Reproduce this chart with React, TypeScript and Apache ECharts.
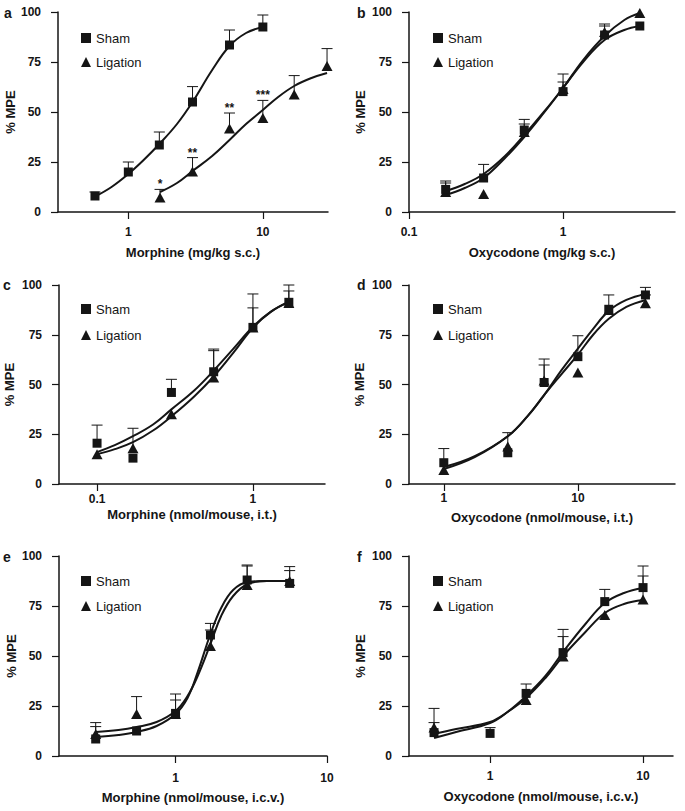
import React, { useEffect, useRef } from 'react';
import * as echarts from 'echarts';

// ---------- data ----------
const panelLetters = ['a', 'b', 'c', 'd', 'e', 'f'];
const xAxisTitles = [
  'Morphine (mg/kg s.c.)',
  'Oxycodone (mg/kg s.c.)',
  'Morphine (nmol/mouse, i.t.)',
  'Oxycodone (nmol/mouse, i.t.)',
  'Morphine (nmol/mouse, i.c.v.)',
  'Oxycodone (nmol/mouse, i.c.v.)',
];
const xMins = [0.3, 0.1, 0.057, 0.55, 0.17, 0.295];
const xMaxs = [30.5, 5.33, 2.9, 53, 10, 15.7];
const xTickValues = [[1, 10], [0.1, 1], [0.1, 1], [1, 10], [1, 10], [1, 10]];
const yTickValues = [0, 25, 50, 75, 100];
const legendNames = ['Sham', 'Ligation'];

// points: [dose, %MPE, top of error bar]
const shamA = [[0.565, 8, 10], [1, 20, 25], [1.7, 33.5, 40], [3.0, 55, 62.7], [5.65, 83.5, 91], [10, 92.5, 98.5]];
const ligA = [[1.72, 7.3, 11.3], [3.0, 20.2, 27.2], [5.65, 41.8, 49.5], [10, 47, 55.8], [17.1, 58.8, 68.2], [30, 73, 81.7]];
const starsA = ['*', '**', '**', '***', '', ''];

const shamB = [[0.173, 11.3, 15.5], [0.305, 17, 23.8], [0.56, 41, 46.3], [1, 60.2, 69], [1.86, 88.5, 94], [3.15, 93, 93]];
const ligB = [[0.173, 10, 14.5], [0.305, 9, 9], [0.56, 40, 44], [1, 61.5, 65], [1.86, 90, 93], [3.15, 99.5, 99.5]];

const shamC = [[0.1, 20.5, 29.6], [0.17, 13, 13], [0.3, 46, 52.6], [0.56, 56.4, 67.8], [1, 78.7, 95.5], [1.7, 91.3, 100]];
const ligC = [[0.1, 15, 15], [0.17, 18, 28], [0.3, 35, 35], [0.56, 53.5, 67], [1, 78.7, 88.5], [1.7, 91, 97]];

const shamD = [[1, 10.7, 17.8], [3.0, 15.7, 15.7], [5.6, 51, 62.8], [10, 64, 74.5], [17, 87.8, 95], [31.9, 95, 98.8]];
const ligD = [[1, 7, 7], [3.0, 18.8, 25.8], [5.6, 52, 59.8], [10, 56, 56], [17, 87.4, 87.4], [31.9, 90.8, 95]];

const shamE = [[0.297, 8.5, 16.7], [0.553, 12.5, 12.5], [1, 21.3, 31], [1.7, 60.5, 66.3], [2.97, 88, 95.5], [5.67, 86.3, 94.7]];
const ligE = [[0.297, 11, 14.7], [0.553, 21, 29.7], [1, 21, 28], [1.7, 55, 63], [2.97, 85.5, 95], [5.67, 87.5, 92.7]];

const shamF = [[0.43, 11.7, 16.7], [1, 11.3, 14.2], [1.72, 31.3, 36], [3.0, 51.7, 63.3], [5.62, 77.2, 83.3], [10, 84.2, 95]];
const ligF = [[0.43, 14.3, 23.8], [1.72, 28, 28], [3.0, 49.7, 59.7], [5.62, 70.5, 70.5], [10, 78.3, 90]];

// fitted curves: [dose, %MPE]
const shamFitA = [[0.565, 7.7], [0.75, 12.5], [1, 19], [1.3, 26], [1.7, 34], [2.3, 44], [3.0, 55], [4.2, 71], [5.65, 83], [7.5, 89.5], [10, 92.5]];
const ligFitA = [[1.72, 10], [2.3, 14.5], [3.0, 20.5], [4.2, 28], [5.65, 36], [7.5, 44], [10, 51], [13, 57.5], [17.1, 63], [23, 67], [30, 69.5]];
const shamFitB = [[0.173, 10.5], [0.23, 14], [0.305, 19], [0.42, 28], [0.56, 38.5], [0.75, 50], [1, 62], [1.35, 75], [1.86, 86], [2.5, 91], [3.15, 93]];
const ligFitB = [[0.173, 8.5], [0.23, 12], [0.305, 17], [0.42, 27], [0.56, 37.5], [0.75, 49.5], [1, 62], [1.35, 76], [1.86, 88], [2.5, 96], [3.15, 99.5]];
const shamFitC = [[0.1, 16], [0.13, 19.5], [0.17, 24], [0.23, 30], [0.3, 37.5], [0.42, 47], [0.56, 57], [0.75, 68], [1, 79], [1.3, 86.5], [1.7, 91.5]];
const ligFitC = [[0.1, 15], [0.13, 17.5], [0.17, 21], [0.23, 27], [0.3, 34], [0.42, 44], [0.56, 54], [0.75, 66], [1, 78.5], [1.3, 86.5], [1.7, 91.5]];
const shamFitD = [[1, 8.5], [1.7, 14], [3, 24], [4.2, 34], [5.65, 45], [7.5, 57], [10, 68], [13, 78], [17, 87], [23, 92.5], [32, 95.5]];
const ligFitD = [[1, 7.5], [1.7, 13.5], [3, 24], [4.2, 34], [5.65, 45], [7.5, 55], [10, 65], [13, 75], [17, 83], [23, 89], [32, 92.5]];
const shamFitE = [[0.297, 9.5], [0.42, 10.5], [0.553, 12], [0.75, 15], [1, 21], [1.2, 29], [1.4, 42], [1.7, 61], [2.0, 74], [2.4, 83], [3, 87], [4, 87.5], [5.67, 87.5]];
const ligFitE = [[0.297, 12], [0.42, 13], [0.553, 14.5], [0.75, 17], [1, 22.5], [1.2, 30], [1.4, 40], [1.7, 56], [2.0, 70], [2.4, 80], [3, 86], [4, 87.5], [5.67, 87.5]];
const shamFitF = [[0.43, 9], [0.6, 12], [1, 16.5], [1.3, 22], [1.72, 30], [2.3, 40], [3, 52], [4.2, 66], [5.62, 76.5], [7.5, 81.5], [10, 84]];
const ligFitF = [[0.43, 11], [0.6, 13.5], [1, 17], [1.3, 22], [1.72, 29], [2.3, 39], [3, 50], [4.2, 62], [5.62, 71.5], [7.5, 76], [10, 78]];

const shamPoints = [shamA, shamB, shamC, shamD, shamE, shamF];
const ligPoints = [ligA, ligB, ligC, ligD, ligE, ligF];
const shamFits = [shamFitA, shamFitB, shamFitC, shamFitD, shamFitE, shamFitF];
const ligFits = [ligFitA, ligFitB, ligFitC, ligFitD, ligFitE, ligFitF];
const starLabels = [starsA, [], [], [], [], []];

// ---------- layout ----------
const FONT = "'Liberation Sans', Arial, sans-serif";
const INK = '#151515';
const grids = [
  { left: 58, top: 12, width: 270, height: 200 },
  { left: 409, top: 12, width: 266, height: 200 },
  { left: 59, top: 285, width: 266, height: 199 },
  { left: 409, top: 285, width: 266, height: 199 },
  { left: 59, top: 556, width: 268, height: 200 },
  { left: 409, top: 556, width: 264, height: 200 },
];
const xLabelMargins = [14, 14, 9, 8, 16, 14];
const xNameGaps = [34, 34, 24, 27, 35, 34];
const yNameGaps = [41, 42, 43, 43, 40, 42];
const legendPos = [
  { left: 76, top: 26, gap: 10 },
  { left: 428, top: 26, gap: 10 },
  { left: 76, top: 297, gap: 12 },
  { left: 428, top: 297, gap: 12 },
  { left: 76, top: 569, gap: 11 },
  { left: 428, top: 569, gap: 11 },
];
const letterPos = [[4, 13], [357, 13], [3, 285], [357, 285], [3, 557], [357, 557]];

function errorSeries(pts: number[][], i: number) {
  return {
    type: 'custom',
    name: 'err',
    xAxisIndex: i,
    yAxisIndex: i,
    z: 3,
    silent: true,
    data: pts.filter((p) => p[2] > p[1]),
    encode: { x: 0, y: [1, 2] },
    renderItem: (_params: any, api: any) => {
      const x = api.value(0);
      const p0 = api.coord([x, api.value(1)]);
      const p1 = api.coord([x, api.value(2)]);
      const st = { stroke: INK, lineWidth: 1 };
      return {
        type: 'group',
        children: [
          { type: 'line', shape: { x1: p0[0], y1: p0[1], x2: p1[0], y2: p1[1] }, style: st },
          { type: 'line', shape: { x1: p1[0] - 5.5, y1: p1[1], x2: p1[0] + 5.5, y2: p1[1] }, style: st },
        ],
      };
    },
  };
}

function starSeries(pts: number[][], labels: string[], i: number) {
  const data = pts.map((p, k) => [p[0], p[2], k]).filter((d) => labels[d[2]]);
  return {
    type: 'custom',
    name: 'stars',
    xAxisIndex: i,
    yAxisIndex: i,
    z: 5,
    silent: true,
    data,
    encode: { x: 0, y: 1 },
    renderItem: (_params: any, api: any) => {
      const c = api.coord([api.value(0), api.value(1)]);
      return {
        type: 'text',
        x: c[0],
        y: c[1] + 1,
        style: {
          text: labels[api.value(2)],
          align: 'center',
          verticalAlign: 'bottom',
          font: `bold 12px ${FONT}`,
          fill: INK,
        },
      };
    },
  };
}

function buildOption() {
  const xAxis: any[] = [];
  const yAxis: any[] = [];
  const series: any[] = [];
  const legend: any[] = [];
  const graphic: any[] = [];
  const axisLine = { show: true, onZero: false, lineStyle: { color: INK, width: 1.5 } };
  const axisTick = { show: true, length: 7, lineStyle: { color: INK, width: 1.2 } };
  const labelStyle = { color: INK, fontSize: 12, fontWeight: 'bold', fontFamily: FONT };
  const nameStyle = { color: INK, fontSize: 13, fontWeight: 'bold', fontFamily: FONT };

  grids.forEach((_g, i) => {
    xAxis.push({
      type: 'log',
      logBase: 10,
      gridIndex: i,
      min: xMins[i],
      max: xMaxs[i],
      axisLine,
      axisTick: { ...axisTick, customValues: xTickValues[i] },
      minorTick: { show: false },
      splitLine: { show: false },
      axisLabel: {
        ...labelStyle,
        customValues: xTickValues[i],
        formatter: (v: number) => String(v),
        margin: xLabelMargins[i],
      },
      name: xAxisTitles[i],
      nameLocation: 'middle',
      nameGap: xNameGaps[i],
      nameTextStyle: nameStyle,
    });
    yAxis.push({
      type: 'value',
      gridIndex: i,
      min: 0,
      max: 100,
      interval: 25,
      axisLine,
      axisTick: { ...axisTick, customValues: yTickValues },
      splitLine: { show: false },
      axisLabel: { ...labelStyle, customValues: yTickValues, margin: 17 },
      name: '% MPE',
      nameLocation: 'middle',
      nameGap: yNameGaps[i],
      nameTextStyle: nameStyle,
    });

    // fitted curves
    [shamFits[i], ligFits[i]].forEach((fit, k) => {
      series.push({
        type: 'line',
        name: k === 0 ? 'Sham fit' : 'Ligation fit',
        xAxisIndex: i,
        yAxisIndex: i,
        data: fit,
        smooth: 0.4,
        showSymbol: false,
        symbol: 'none',
        silent: true,
        z: 2,
        lineStyle: { color: INK, width: 2 },
      });
    });
    series.push(errorSeries(shamPoints[i], i));
    series.push(errorSeries(ligPoints[i], i));
    series.push({
      type: 'scatter',
      name: 'Ligation',
      xAxisIndex: i,
      yAxisIndex: i,
      data: ligPoints[i].map((p) => [p[0], p[1]]),
      symbol: 'triangle',
      symbolSize: [11, 10],
      itemStyle: { color: INK, opacity: 1 },
      z: 4,
    });
    series.push({
      type: 'scatter',
      name: 'Sham',
      xAxisIndex: i,
      yAxisIndex: i,
      data: shamPoints[i].map((p) => [p[0], p[1]]),
      symbol: 'rect',
      symbolSize: 9,
      itemStyle: { color: INK, opacity: 1 },
      z: 4,
    });
    if (starLabels[i].length) series.push(starSeries(ligPoints[i], starLabels[i], i));

    legend.push({
      orient: 'vertical',
      left: legendPos[i].left,
      top: legendPos[i].top,
      itemGap: legendPos[i].gap,
      itemWidth: 10,
      itemHeight: 10,
      selectedMode: false,
      data: legendNames,
      itemStyle: { opacity: 1 },
      textStyle: { color: INK, fontSize: 13, lineHeight: 14, fontFamily: FONT },
    });

    graphic.push({
      type: 'text',
      x: letterPos[i][0],
      y: letterPos[i][1],
      style: {
        text: panelLetters[i],
        font: `bold 14px ${FONT}`,
        fill: INK,
        verticalAlign: 'middle',
      },
    });
  });

  return {
    animation: false,
    backgroundColor: '#fff',
    grid: grids.map((g) => ({ ...g, containLabel: false })),
    xAxis,
    yAxis,
    legend,
    graphic,
    series,
  };
}

export default function App() {
  const ref = useRef<HTMLDivElement>(null);
  useEffect(() => {
    if (!ref.current) return;
    const chart = echarts.init(ref.current, undefined, { renderer: 'svg' });
    chart.setOption(buildOption() as any);
    return () => chart.dispose();
  }, []);
  return (
    <div
      ref={ref}
      style={{ position: 'fixed', left: 0, top: 0, width: 685, height: 811, background: '#fff' }}
    />
  );
}
